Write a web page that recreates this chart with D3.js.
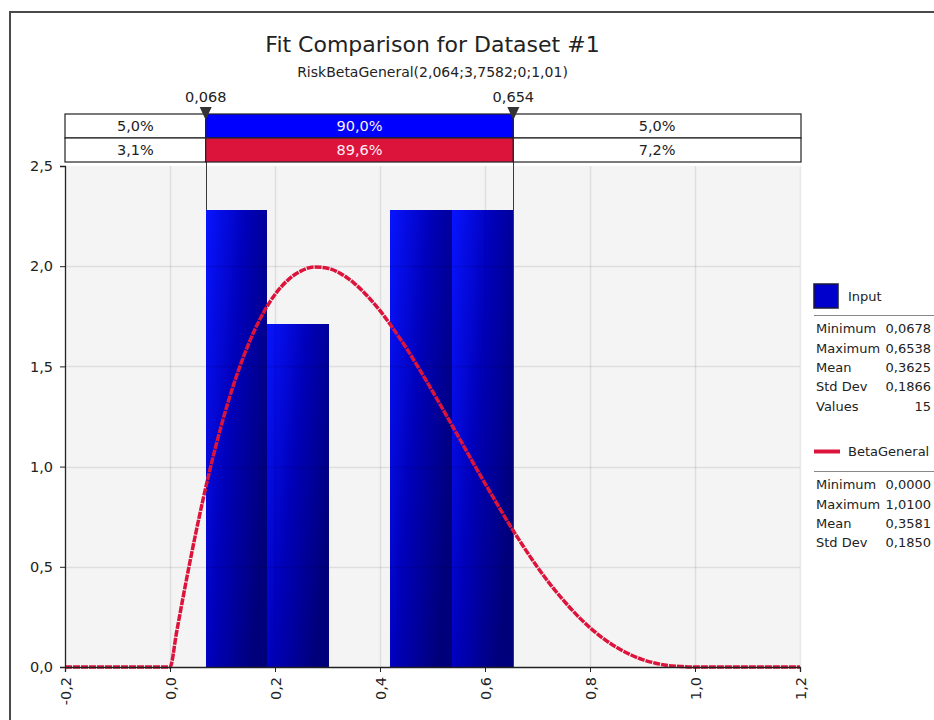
<!DOCTYPE html>
<html>
<head>
<meta charset="utf-8">
<script src="https://cdn.jsdelivr.net/npm/d3@7"></script>
<style>
  body { margin: 0; background: #fff; }
  svg text { font-family: "DejaVu Sans", Verdana, sans-serif; }
</style>
</head>
<body>
<div id="chart"></div>
<script>
// chart values
const binEdges = [0.0678, 0.1850, 0.3022, 0.4194, 0.5366, 0.6538];
const binDensity = [2.28, 1.71, 0, 2.28, 2.28];

const fitX = [-0.2, 0, 0.0125, 0.025, 0.05, 0.075, 0.1, 0.125, 0.15, 0.175, 0.2, 0.225, 0.25, 0.275,
  0.3, 0.325, 0.35, 0.375, 0.4, 0.425, 0.45, 0.475, 0.5, 0.525, 0.55, 0.575, 0.6, 0.625, 0.65,
  0.675, 0.7, 0.725, 0.75, 0.775, 0.8, 0.825, 0.85, 0.875, 0.9, 0.925, 0.95, 0.975, 1.0, 1.2];
const fitY = [0, 0, 0.173, 0.349, 0.679, 0.973, 1.226, 1.439, 1.614, 1.754, 1.859, 1.932, 1.977, 1.996,
  1.990, 1.963, 1.917, 1.854, 1.778, 1.689, 1.592, 1.486, 1.376, 1.262, 1.147, 1.030, 0.916, 0.805, 0.696,
  0.594, 0.498, 0.410, 0.331, 0.259, 0.196, 0.143, 0.099, 0.064, 0.037, 0.019, 0.007, 0.002, 0, 0];

const markers = [0.068, 0.654];
const markerLabels = ["0,068", "0,654"];
const inputPct = ["5,0%", "90,0%", "5,0%"];
const fitPct = ["3,1%", "89,6%", "7,2%"];

const inputStatNames = ["Minimum", "Maximum", "Mean", "Std Dev", "Values"];
const inputStatValues = ["0,0678", "0,6538", "0,3625", "0,1866", "15"];
const fitStatNames = ["Minimum", "Maximum", "Mean", "Std Dev"];
const fitStatValues = ["0,0000", "1,0100", "0,3581", "0,1850"];

const titleText = "Fit Comparison for Dataset #1";
const subtitleText = "RiskBetaGeneral(2,064;3,7582;0;1,01)";

const width = 934, height = 720;
const margin = {top: 166, right: 134, bottom: 53, left: 65};

const svg = d3.select("#chart")
  .append("svg")
  .attr("width", width)
  .attr("height", height);

const locale = d3.formatLocale({decimal: ",", thousands: ".", grouping: [3], currency: ["", ""], minus: "-"});
const fmt = locale.format(".1f");

const xScale = d3.scaleLinear()
  .domain([-0.2, 1.2])
  .range([margin.left, width - margin.right]);

const yScale = d3.scaleLinear()
  .domain([0, 2.5])
  .range([height - margin.bottom, margin.top]);

// bar gradient
const defs = svg.append("defs");
const grad = defs.append("linearGradient")
  .attr("id", "barGrad")
  .attr("x1", 0).attr("y1", 0).attr("x2", 1).attr("y2", 0.6);
grad.append("stop").attr("offset", "0%").attr("stop-color", "#0814ff");
grad.append("stop").attr("offset", "50%").attr("stop-color", "#0000b8");
grad.append("stop").attr("offset", "100%").attr("stop-color", "#00007a");

// outer frame
svg.append("rect")
  .attr("x", 10).attr("y", 12)
  .attr("width", 940).attr("height", 720)
  .attr("fill", "none")
  .attr("stroke", "#4a4a4a")
  .attr("stroke-width", 2);

// titles
svg.append("text")
  .attr("x", (xScale(-0.2) + xScale(1.2)) / 2)
  .attr("y", 52)
  .attr("text-anchor", "middle")
  .attr("font-size", "22px")
  .attr("fill", "#222")
  .text(titleText);

svg.append("text")
  .attr("x", (xScale(-0.2) + xScale(1.2)) / 2)
  .attr("y", 77)
  .attr("text-anchor", "middle")
  .attr("font-size", "14px")
  .attr("fill", "#222")
  .text(subtitleText);

// plot background
svg.append("rect")
  .attr("x", xScale(-0.2))
  .attr("y", yScale(2.5))
  .attr("width", xScale(1.2) - xScale(-0.2))
  .attr("height", yScale(0) - yScale(2.5))
  .attr("fill", "#f4f4f4");

// marker lines through the plot
svg.selectAll(".markerLine")
  .data(markers)
  .enter()
  .append("line")
    .attr("class", "markerLine")
    .attr("x1", (d) => Math.round(xScale(d)) + 0.5)
    .attr("x2", (d) => Math.round(xScale(d)) + 0.5)
    .attr("y1", 162)
    .attr("y2", yScale(0))
    .attr("stroke", "#3a3a3a")
    .attr("stroke-width", 1);

// histogram bars
svg.selectAll(".bar")
  .data(binDensity)
  .enter()
  .append("rect")
    .attr("class", "bar")
    .attr("x", (d, i) => Math.round(xScale(binEdges[i])))
    .attr("y", (d) => Math.round(yScale(d)))
    .attr("width", (d, i) => Math.round(xScale(binEdges[i + 1])) - Math.round(xScale(binEdges[i])))
    .attr("height", (d) => Math.round(yScale(0)) - Math.round(yScale(d)))
    .attr("shape-rendering", "crispEdges")
    .attr("fill", "url(#barGrad)");

// grid on top of bars
const xTicks = d3.range(-0.2, 1.21, 0.2);
const yTicks = d3.range(0, 2.51, 0.5);
svg.append("g")
  .selectAll("line")
  .data(xTicks.slice(1))
  .enter()
  .append("line")
    .attr("x1", (d) => Math.round(xScale(d)) + 0.5)
    .attr("x2", (d) => Math.round(xScale(d)) + 0.5)
    .attr("y1", yScale(2.5))
    .attr("y2", yScale(0))
    .attr("stroke", "rgba(0,0,0,0.09)")
    .attr("stroke-width", 1.5);
svg.append("g")
  .selectAll("line")
  .data(yTicks.slice(1, -1))
  .enter()
  .append("line")
    .attr("x1", xScale(-0.2))
    .attr("x2", xScale(1.2))
    .attr("y1", (d) => Math.round(yScale(d)) + 0.5)
    .attr("y2", (d) => Math.round(yScale(d)) + 0.5)
    .attr("stroke", "rgba(0,0,0,0.09)")
    .attr("stroke-width", 1.5);

// fitted curve
const fitData = fitX.map((x, i) => ({x: x, y: fitY[i]}));
svg.append("path")
  .datum(fitData)
  .attr("d", d3.line()
    .x((d) => xScale(d.x))
    .y((d) => yScale(d.y))
    .curve(d3.curveMonotoneX))
  .attr("fill", "none")
  .attr("stroke", "#dc143c")
  .attr("stroke-width", 3.5)
  .attr("stroke-dasharray", "7,1");

// axes
svg.append("g")
  .attr("transform", `translate(0,${yScale(0)})`)
  .call(d3.axisBottom(xScale).tickValues(xTicks).tickSize(5).tickFormat(fmt))
  .call((g) => g.select(".domain").attr("stroke", "#222").attr("stroke-width", 1.3))
  .call((g) => g.selectAll(".tick line").attr("stroke", "#222"))
  .call((g) => g.selectAll(".tick text")
    .attr("transform", "rotate(-90)")
    .attr("text-anchor", "end")
    .attr("x", -10)
    .attr("y", 0)
    .attr("dy", "0.36em")
    .attr("font-size", "14.5px")
    .attr("fill", "#222"));

svg.append("g")
  .attr("transform", `translate(${margin.left},0)`)
  .call(d3.axisLeft(yScale).tickValues(yTicks).tickSize(5).tickFormat(fmt))
  .call((g) => g.select(".domain").attr("stroke", "#222").attr("stroke-width", 1.3))
  .call((g) => g.selectAll(".tick line").attr("stroke", "#222"))
  .call((g) => g.selectAll(".tick text")
    .attr("x", -12)
    .attr("font-size", "14.5px")
    .attr("fill", "#222"));

// percentage table above the plot
const edges = [-0.2, markers[0], markers[1], 1.2];
const rows = [{vals: inputPct, fill: "#0000ff", y: 114}, {vals: fitPct, fill: "#dc143c", y: 138}];
const rowH = 24;
const tableRight = 801;
rows.forEach((row) => {
  row.vals.forEach((v, i) => {
    const x0 = xScale(edges[i]);
    const x1 = i === 2 ? tableRight : xScale(edges[i + 1]);
    svg.append("rect")
      .attr("x", x0)
      .attr("y", row.y)
      .attr("width", x1 - x0)
      .attr("height", rowH)
      .attr("fill", i === 1 ? row.fill : "#fff")
      .attr("stroke", "#222")
      .attr("stroke-width", 1.2);
    svg.append("text")
      .attr("x", (x0 + x1) / 2)
      .attr("y", row.y + rowH / 2)
      .attr("dy", "0.36em")
      .attr("text-anchor", "middle")
      .attr("font-size", "14.5px")
      .attr("fill", i === 1 ? "#fff0f4" : "#222")
      .text(v);
  });
});

// marker triangles and labels
svg.selectAll(".tri")
  .data(markers)
  .enter()
  .append("path")
    .attr("class", "tri")
    .attr("d", (d) => {
      const x = xScale(d);
      return `M${x - 6},107 L${x + 6},107 L${x},120 Z`;
    })
    .attr("fill", "#333");

svg.selectAll(".markerText")
  .data(markers)
  .enter()
  .append("text")
    .attr("class", "markerText")
    .attr("x", (d) => xScale(d))
    .attr("y", 102)
    .attr("text-anchor", "middle")
    .attr("font-size", "14.5px")
    .attr("fill", "#222")
    .text((d, i) => markerLabels[i]);

// legend
const lgX = 814, lgRight = 931;
const legend = svg.append("g");

legend.append("rect")
  .attr("x", lgX).attr("y", 284)
  .attr("width", 24).attr("height", 24)
  .attr("fill", "#0000cc")
  .attr("stroke", "#1a1a3a")
  .attr("stroke-width", 1.5);
legend.append("text")
  .attr("x", 848).attr("y", 296).attr("dy", "0.36em")
  .attr("font-size", "13px").attr("fill", "#222")
  .text("Input");
legend.append("line")
  .attr("x1", lgX).attr("x2", 934)
  .attr("y1", 315.5).attr("y2", 315.5)
  .attr("stroke", "#888").attr("stroke-width", 1);

const statRows = (names, values, y0) => {
  names.forEach((n, i) => {
    legend.append("text")
      .attr("x", 816).attr("y", y0 + i * 19.4).attr("dy", "0.36em")
      .attr("font-size", "13px").attr("fill", "#222")
      .text(n);
    legend.append("text")
      .attr("x", lgRight).attr("y", y0 + i * 19.4).attr("dy", "0.36em")
      .attr("text-anchor", "end")
      .attr("font-size", "13px").attr("fill", "#222")
      .text(values[i]);
  });
};
statRows(inputStatNames, inputStatValues, 328.5);

legend.append("line")
  .attr("x1", lgX).attr("x2", 840)
  .attr("y1", 451.5).attr("y2", 451.5)
  .attr("stroke", "#dc143c").attr("stroke-width", 4);
legend.append("text")
  .attr("x", 848).attr("y", 451).attr("dy", "0.36em")
  .attr("font-size", "13px").attr("fill", "#222")
  .text("BetaGeneral");
legend.append("line")
  .attr("x1", lgX).attr("x2", 934)
  .attr("y1", 471.5).attr("y2", 471.5)
  .attr("stroke", "#888").attr("stroke-width", 1);
statRows(fitStatNames, fitStatValues, 484.5);
</script>
</body>
</html>
